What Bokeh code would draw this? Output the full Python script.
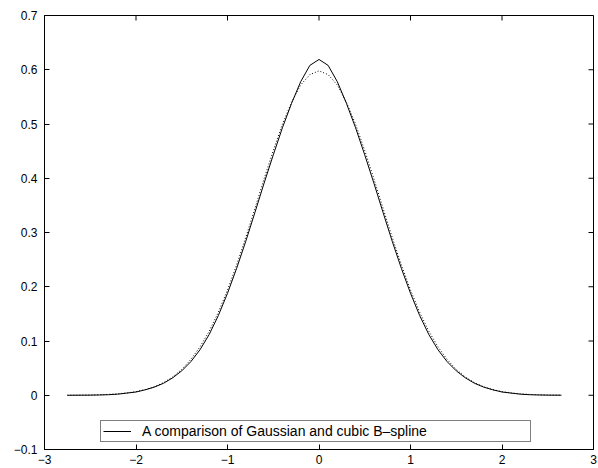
import math
from bokeh.plotting import figure
from bokeh.models import LinearAxis, Range1d, FixedTicker, Legend, LegendItem
from bokeh.embed import file_html
from bokeh.resources import INLINE

# x positions of the sampled curves
x_vals = [-2.75, -2.6, -2.5, -2.4, -2.3, -2.2, -2.1, -2.0, -1.9, -1.8, -1.7, -1.6,
          -1.5, -1.4, -1.3, -1.2, -1.1, -1.0, -0.9, -0.8, -0.7, -0.6, -0.5, -0.4,
          -0.3, -0.2, -0.1, 0.0, 0.1, 0.2, 0.3, 0.4, 0.5, 0.6, 0.7, 0.8, 0.9, 1.0,
          1.1, 1.2, 1.3, 1.4, 1.5, 1.6, 1.7, 1.8, 1.9, 2.0, 2.1, 2.2, 2.3, 2.4, 2.5,
          2.65]

# solid curve (cubic B-spline)
spline_vals = [0.0, 0.0001, 0.0002, 0.0005, 0.001, 0.002, 0.004, 0.006, 0.010, 0.015,
               0.022, 0.032, 0.045, 0.062, 0.084, 0.112, 0.147, 0.188, 0.234, 0.284,
               0.337, 0.391, 0.443, 0.493, 0.538, 0.578, 0.608, 0.619, 0.608, 0.578,
               0.538, 0.493, 0.443, 0.391, 0.337, 0.284, 0.234, 0.188, 0.147, 0.112,
               0.084, 0.062, 0.045, 0.032, 0.022, 0.015, 0.010, 0.006, 0.004, 0.002,
               0.001, 0.0005, 0.0002, 0.0001]

# dotted curve (Gaussian)
gauss_vals = [0.0001, 0.0003, 0.0005, 0.0009, 0.0016, 0.0026, 0.0042, 0.0066, 0.0103,
              0.0156, 0.0232, 0.0336, 0.0476, 0.066, 0.0893, 0.118, 0.153, 0.194,
              0.2404, 0.291, 0.3446, 0.399, 0.451, 0.4995, 0.540, 0.572, 0.591, 0.598,
              0.591, 0.572, 0.540, 0.4995, 0.451, 0.399, 0.3446, 0.291, 0.2404, 0.194,
              0.153, 0.118, 0.0893, 0.066, 0.0476, 0.0336, 0.0232, 0.0156, 0.0103,
              0.0066, 0.0042, 0.0026, 0.0016, 0.0009, 0.0005, 0.0002]

x_ticks = [-3, -2, -1, 0, 1, 2, 3]
x_labels = ["\u22123", "\u22122", "\u22121", "0", "1", "2", "3"]
y_ticks = [-0.1, 0.0, 0.1, 0.2, 0.3, 0.4, 0.5, 0.6, 0.7]
y_labels = ["\u22120.1", "0", "0.1", "0.2", "0.3", "0.4", "0.5", "0.6", "0.7"]
legend_label = "A comparison of Gaussian and cubic B\u2013spline"

X_MIN, X_MAX = -3, 3
Y_MIN, Y_MAX = -0.1, 0.7

FONT = "Liberation Sans"
FS = "12px"

p = figure(width=598, height=468, output_backend="svg", toolbar_location=None,
           x_range=Range1d(X_MIN, X_MAX), y_range=Range1d(Y_MIN, Y_MAX),
           x_axis_location=None, y_axis_location=None,
           min_border_left=44, min_border_right=5, min_border_top=15,
           min_border_bottom=19)
p.grid.visible = False
p.outline_line_color = "black"
p.outline_line_width = 1
p.background_fill_color = "white"
p.border_fill_color = "white"

def make_axis(ticks, labels, standoff):
    ax = LinearAxis(ticker=FixedTicker(ticks=ticks))
    ax.major_tick_in = 5
    ax.major_tick_out = 0
    ax.minor_tick_in = 0
    ax.minor_tick_out = 0
    ax.axis_line_color = "black"
    ax.major_tick_line_color = "black"
    ax.major_label_overrides = {t: l for t, l in zip(ticks, labels)}
    ax.major_label_text_font = FONT
    ax.major_label_text_font_size = FS
    ax.major_label_text_color = "black"
    ax.major_label_standoff = standoff
    return ax

p.add_layout(make_axis(x_ticks, x_labels, 5), "below")
p.add_layout(make_axis(y_ticks, y_labels, 7), "left")

# inward ticks on the top and right edges of the box
p.ray(x=x_ticks, y=[Y_MAX] * len(x_ticks), length=5, length_units="screen",
      angle=-math.pi / 2, line_color="black", line_width=1)
p.ray(x=[X_MAX] * len(y_ticks), y=y_ticks, length=5, length_units="screen",
      angle=math.pi, line_color="black", line_width=1)

r_spline = p.line(x_vals, spline_vals, line_color="black", line_width=1)
r_gauss = p.line(x_vals, gauss_vals, line_color="black", line_width=1,
                 line_dash="1 2")

legend = Legend(items=[LegendItem(label=legend_label, renderers=[r_spline])],
                location=(56, 7))
legend.label_text_font = FONT
legend.label_text_font_size = "14px"
legend.label_text_color = "black"
legend.border_line_color = "black"
legend.border_line_width = 1
legend.background_fill_alpha = 1
legend.padding = 2
legend.margin = 0
legend.glyph_width = 28
legend.glyph_height = 14
legend.label_standoff = 11
legend.label_width = 386
legend.label_height = 14
legend.spacing = 0
p.add_layout(legend, "center")

open("out.html", "w").write(file_html(p, INLINE))
